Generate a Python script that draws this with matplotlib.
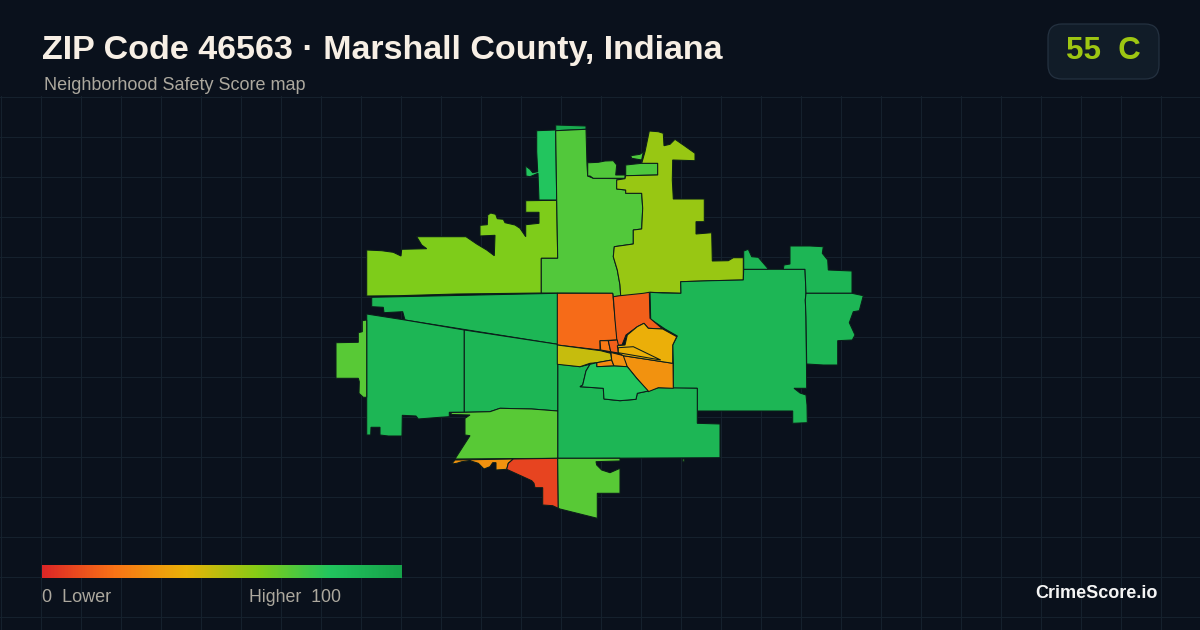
import numpy as np
import matplotlib
matplotlib.use("Agg")
import matplotlib.pyplot as plt
from matplotlib.colors import LinearSegmentedColormap
from matplotlib.patches import FancyBboxPatch, Polygon

# outlines, in picture pixels
north_west = [(366.7,250),(381.7,250.7),(393.3,252.3),(401,256),(401.7,249.3),(426.7,248.7),(421.7,245),(416.7,236.7),(466,236.7),(476.7,244),(486.7,250),(494.3,255.7),(495,235.3),(480,236),(480,225.3),(487.3,224.7),(487.7,215),(490.7,213),(495.7,214.3),(497.3,218.7),(503.3,219.3),(505,222.7),(515,225),(520,228.3),(525.7,236.7),(525.7,224.7),(539,223.3),(539,212.3),(525.7,212.3),(525.7,200.7),(556.7,200.3),(557.7,258.3),(541.3,258.3),(541.3,293),(456.7,294),(398.3,295.7),(366.7,296)]
north_strip = [(536.7,130.7),(555.7,130),(556.7,200),(539,200),(538,173.3),(530,176.7),(526,176),(525.7,166),(530,169.3),(532.7,172.7),(537.7,171.7),(536.7,151.7)]
north_cap = [(555.7,125),(586,126),(586,129.3),(570.7,130),(555.7,130.7)]
north_mid = [(555.7,130.7),(570.7,130),(586,129.3),(587,165),(587.7,176),(593.3,178.3),(625,178.7),(616.7,180),(616.7,189),(625.7,190),(625.7,193.3),(641.7,193.3),(642.7,208.3),(641.7,229),(633.3,230),(633.3,244),(614.3,246.7),(613.3,256.7),(617.3,270),(620,285),(620.7,296),(613.3,296.7),(612.7,293.3),(541.3,293),(541.3,258.3),(557.7,258.3),(556.7,200.3)]
north_pocket = [(587.7,162.7),(590,162.7),(598.3,162.3),(605,161),(613.3,160.7),(616.7,165),(615.7,175),(625,175),(625,178.3),(593.3,178.3),(590,176),(587.7,176)]
north_box = [(625.7,165),(641.7,163.3),(657.7,163.3),(657.7,175),(625.7,175.7)]
north_sliver = [(630.7,155.7),(640,154.3),(643.3,151.7),(641.7,160),(631.7,158.3)]
north_east = [(649.3,131),(658.3,131.7),(663.3,133.3),(664,145.7),(670,144.3),(675,139.3),(683.3,145),(695,153.3),(695,160.7),(672.7,160),(672.3,180),(673.3,199),(704.3,199),(704.3,221.7),(696,221.7),(696,234),(711.7,232.7),(712.3,261),(728.3,260.7),(733.3,257.7),(743.3,257.7),(743.3,280),(711.7,280.7),(680.7,281.7),(681,293.3),(662.7,292.7),(649.3,292.3),(643.3,295),(620.7,296),(620,285),(617.3,270),(613.3,256.7),(614.3,246.7),(633.3,244),(633.3,230),(641.7,229),(642.7,208.3),(641.7,193.3),(625.7,193.3),(625.7,190),(616.7,189),(616.7,180),(625,178.7),(625.7,175.7),(657.7,175),(657.7,163.3),(641.7,163.3),(645,151.7)]
east_main = [(650,292.3),(662.7,293),(681,293.3),(680.7,281.7),(711.7,280.7),(743.3,280),(743.7,269.3),(805,269.3),(806,293.3),(805.3,300),(806,316.7),(806.7,388.3),(794,388.3),(800,393),(806,395),(807,405),(807.3,422.7),(792.7,423.3),(792.7,411),(697.3,411),(697.3,388.3),(673.3,388.3),(673.3,363.3),(672.7,345),(677.3,336),(665,329),(650.7,319.3)]
east_tip = [(743.7,269.3),(743.7,251),(748.3,249.3),(751.7,256.7),(758.3,257.3),(767.7,268.3),(767.7,269.3)]
east_upper = [(783.3,269.3),(784,265),(790,264),(790,246),(810,246),(823.3,246.7),(822.3,253.3),(827.7,260),(828.3,270),(852,271),(852,293.3),(806,293.3),(805,269.3)]
east_lower = [(806,293.3),(852,293.3),(863.3,295.7),(861.7,301.7),(859.3,310.7),(853.3,311.7),(849.3,322.7),(855,335),(852.3,340),(837.7,340.7),(837.7,365),(823.3,365),(806.7,364),(806,316.7),(805.3,300)]
south_main = [(557.7,364),(580,366.7),(590,364.3),(586,371),(582.7,385),(580,386.7),(603.3,388.3),(604,399),(620,400.7),(636,399.3),(637.3,393.3),(648.3,391),(658.3,387.7),(697.3,388.3),(697.3,423.3),(720,424),(720,457.7),(590,458.3),(557.7,458.3)]
west_upper = [(371.7,297.3),(557.7,293.3),(557.7,344.3),(405,320),(402.7,311.7),(384,312.7),(383.3,307.3),(371.7,306.7)]
west_far = [(366.7,314),(405,320),(464.3,330),(464.3,412.3),(449.3,412.3),(449.3,416.7),(440,417.3),(418.3,419),(416,416),(402.3,415.3),(402,436),(388.3,436),(380,435),(380,427.3),(371,427.3),(370.7,435),(366.7,435)]
west_mid = [(464.3,330),(557.7,344.3),(557.7,411),(531.7,409),(500,408.3),(490,411.7),(464.3,412.3)]
west_edge = [(366.7,320),(362.3,320.7),(362.3,331.7),(358.3,332.7),(358.3,342.3),(336,342.7),(336,378.3),(358.3,378.3),(359.3,381.7),(359,393.3),(363.3,397.3),(366.7,397.3)]
south_west = [(450,412.5),(464.3,412.3),(490,411.7),(500,408.3),(531.7,409),(557.7,411),(557.7,458.3),(455,459),(470,435.7),(465,435),(465,418.3),(470,415),(452,414.5)]
south_fringe = [(451.7,464),(455,460),(513.3,459),(508.3,463.3),(506.7,469.3),(496,470),(496,462.7),(492.7,462.7),(490,466.7),(484,469),(478.3,463.3),(470,460.7),(461.7,461.7),(456.7,463.3)]
south_red = [(513.3,459),(557.7,458.3),(558.3,508.3),(552.7,505.7),(542.7,505),(542.7,487.7),(535,487.7),(534,483.3),(531.7,480.7),(506.7,469.3),(508.3,463.3)]
south_tail = [(557.7,458.3),(620,458.3),(620,461),(602,461.5),(596,461.7),(596.7,465),(601.7,470),(610,472.7),(620,468.3),(620,493.3),(597.3,493.3),(597.3,518.3),(560,509),(558.3,508.3)]
south_speck = [(682.5,459),(684.5,459),(684,462),(683,462)]
core_west = [(557.3,293.3),(612.7,293.3),(614,306.7),(617.3,340),(600,340.7),(600,350),(557.3,345)]
core_north = [(613.3,296.7),(620,295.7),(643.3,293.3),(649.3,292.3),(650,318.3),(662.7,329),(648.3,328.3),(644,323.3),(637.3,326.7),(626,335),(622,345),(617.3,345),(615,320)]
core_box_a = [(600,340.7),(608.3,340.7),(610.7,351.7),(600.7,350)]
core_box_b = [(608.3,340.7),(617.3,340),(620,353.3),(610.7,351.7)]
core_band = [(557.3,345),(600.7,350.7),(610.7,353.3),(611.7,360),(596.7,362.7),(590,363.3),(580,366.7),(557.3,364.3)]
core_chip = [(596.7,362.7),(611.7,360),(614,366),(596.7,366.7)]
core_wedge = [(611,352.5),(625,356),(627.3,366.7),(614,366),(611.7,360)]
core_south = [(623.3,355.7),(673,363.3),(673.3,388.3),(658.3,387.7),(648.3,391.7),(636.7,378.3),(627.3,366.7)]
core_yellow = [(617.3,345.7),(625,345),(627.3,335),(637.3,326.7),(644,323.3),(648.3,328.3),(662.7,329),(676.7,336.7),(672.7,345),(672.7,363.3),(623.3,355.7),(618.3,352.7)]
core_inner = [(618.3,347.7),(633.3,346.7),(660.7,360),(618.3,352.7)]
core_green = [(580,386.7),(582.7,385),(586,371),(590,364.3),(596.7,362.7),(596.7,366.7),(614,366),(627.3,366.7),(636.7,378.3),(648.3,391),(637.3,393.3),(636,399.3),(620,400.7),(604,399),(603.3,388.3)]

regions = [north_west, north_strip, north_cap, north_mid, north_pocket, north_box, north_sliver, north_east,
           east_main, east_tip, east_upper, east_lower, south_main, west_upper, west_far, west_mid, west_edge,
           south_west, south_fringe, south_red, south_tail, south_speck, core_west, core_north, core_box_a,
           core_box_b, core_band, core_chip, core_wedge, core_south, core_yellow, core_inner, core_green]
scores = [61, 80, 95, 70, 70, 71, 71, 56,
          89, 89, 89, 89, 89, 89, 89, 89, 69,
          69, 30, 8, 69, 69, 18, 15, 22,
          15, 47, 27, 30, 30, 39, 39, 80]

# colour scale of the legend
scale_stops = [0, 0.2, 0.4, 0.6, 0.8, 1.0]
scale_colors = ["#dc2626", "#f97316", "#eab308", "#84cc16", "#22c55e", "#16a34a"]

title = "ZIP Code 46563 · Marshall County, Indiana"
subtitle = "Neighborhood Safety Score map"
overall_score = 55
overall_grade = "C"

BG = "#0a111c"
GRID = "#15212d"
OUTLINE = "#0b1d1a"
MUTED = "#aca89e"


def main():
    plt.rcParams["font.family"] = ["Liberation Sans", "DejaVu Sans"]
    cmap = LinearSegmentedColormap.from_list("safety", list(zip(scale_stops, scale_colors)))

    fig = plt.figure(figsize=(12, 6.3), dpi=100, facecolor=BG)
    ax = fig.add_axes([0, 0, 1, 1])
    ax.set_xlim(0, 1200)
    ax.set_ylim(630, 0)
    ax.axis("off")

    # background grid starts under the header
    for x in range(0, 1200, 40):
        ax.plot([x + 0.5, x + 0.5], [96, 630], color=GRID, lw=0.8, zorder=1)
    for y in range(96, 630, 40):
        ax.plot([0, 1200], [y + 0.5, y + 0.5], color=GRID, lw=0.8, zorder=1)

    for outline, score in zip(regions, scores):
        ax.add_patch(Polygon(outline, closed=True, facecolor=cmap(score / 100), edgecolor=OUTLINE,
                             lw=0.75, joinstyle="miter", zorder=2))

    ax.text(42, 51, title, fontsize=24.45, fontweight="bold", color="#f7efe5", va="center", ha="left", zorder=3)
    ax.text(44, 85.5, subtitle, fontsize=13, color=MUTED, va="center", ha="left", zorder=3)

    # score badge
    ax.add_patch(FancyBboxPatch((1062, 38), 83, 27, boxstyle="round,pad=14,rounding_size=14",
                                facecolor="#111c28", edgecolor="#243140", lw=0.9, zorder=3))
    ax.text(1103.5, 51, "%d  %s" % (overall_score, overall_grade), fontsize=22.5, fontweight="bold",
            color=cmap(overall_score / 100), va="center", ha="center", zorder=4)

    # legend bar
    gradient = np.linspace(0, 1, 360).reshape(1, -1)
    ax.imshow(gradient, cmap=cmap, extent=(42, 402, 578, 565), aspect="auto", zorder=3)
    ax.set_xlim(0, 1200)
    ax.set_ylim(630, 0)
    ax.text(42, 597.5, "0  Lower", fontsize=13, color=MUTED, va="center", ha="left", zorder=3)
    ax.text(249, 597.5, "Higher  100", fontsize=12.8, color=MUTED, va="center", ha="left", zorder=3)

    ax.text(1158, 594, "CrimeScore.io", fontsize=13, fontweight="bold", color="#f5f5f5",
            va="center", ha="right", zorder=3)

    fig.savefig("out.png", dpi=100, facecolor=BG)


if __name__ == "__main__":
    main()
